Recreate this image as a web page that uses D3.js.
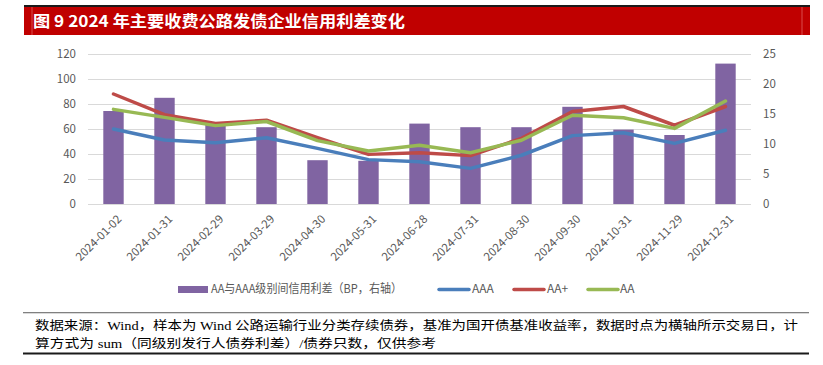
<!DOCTYPE html>
<html>
<head>
<meta charset="utf-8">
<script src="https://cdn.jsdelivr.net/npm/d3@7/dist/d3.min.js"></script>
<style>
  body { margin: 0; background: #fff; }
  text { font-family: "Noto Sans CJK SC", "Noto Sans", sans-serif; }
</style>
</head>
<body>
<div id="chart"></div>
<script>
// data
var dates = ["2024-01-02", "2024-01-31", "2024-02-29", "2024-03-29", "2024-04-30", "2024-05-31",
             "2024-06-28", "2024-07-31", "2024-08-30", "2024-09-30", "2024-10-31", "2024-11-29", "2024-12-31"];
var spreadGap = [15.5, 17.7, 13.4, 12.8, 7.3, 7.2, 13.4, 12.8, 12.8, 16.2, 12.4, 11.5, 23.4];
var aaa = [60, 51.2, 49, 53, 44.5, 35.5, 33.8, 28.5, 39, 54.7, 57, 48.5, 59];
var aaPlus = [88, 71.5, 64.5, 67, 53, 39.7, 41, 38.7, 52.5, 74, 78, 63, 78];
var aa = [75.7, 69.3, 62.7, 66, 50.7, 42.4, 47, 41, 51, 71, 69, 60.5, 82.4];
var leftTicks = [0, 20, 40, 60, 80, 100, 120];
var rightTicks = [0, 5, 10, 15, 20, 25];

var width = 823, height = 365;
var plot = {left: 88, right: 751, top: 54, bottom: 204};

var svg = d3.select("#chart").append("svg")
    .attr("width", width)
    .attr("height", height);

// title bar
svg.append("rect").attr("x", 24).attr("y", 5).attr("width", 786).attr("height", 2).attr("fill", "#1a1a1a");
svg.append("rect").attr("x", 24).attr("y", 7).attr("width", 786).attr("height", 28).attr("fill", "#C00000");
svg.append("line").attr("x1", 32).attr("x2", 32).attr("y1", 7).attr("y2", 35).attr("stroke", "#e06060").attr("stroke-width", 0.8);
svg.append("line").attr("x1", 802).attr("x2", 802).attr("y1", 7).attr("y2", 35).attr("stroke", "#e06060").attr("stroke-width", 0.8);
svg.append("text")
    .attr("x", 33).attr("y", 27)
    .attr("fill", "#fff")
    .attr("font-size", 16)
    .attr("font-weight", "bold")
    .attr("textLength", 372)
    .attr("lengthAdjust", "spacingAndGlyphs")
    .text("图 9  2024 年主要收费公路发债企业信用利差变化");

// scales
var x = d3.scaleBand()
    .domain(dates)
    .range([plot.left, plot.right])
    .paddingInner(0.6)
    .paddingOuter(0.3);

var xc = d => x(d) + x.bandwidth() / 2;

var yLeft = d3.scaleLinear().domain([0, 120]).range([plot.bottom, plot.top]);
var yRight = d3.scaleLinear().domain([0, 25]).range([plot.bottom, plot.top]);

// gridlines
svg.append("g")
    .attr("transform", "translate(" + plot.left + ",0)")
    .call(d3.axisLeft(yLeft).tickValues(leftTicks).tickSize(-(plot.right - plot.left)).tickFormat(""))
    .call(g => g.select(".domain").remove())
    .call(g => g.selectAll("line").attr("stroke", "#d9d9d9").attr("stroke-width", 1.2));

// left axis labels
svg.append("g")
    .attr("transform", "translate(" + (plot.left - 6) + ",0)")
    .call(d3.axisLeft(yLeft).tickValues(leftTicks).tickSize(0).tickPadding(6))
    .call(g => g.select(".domain").remove())
    .call(g => g.selectAll("text").attr("fill", "#595959").attr("font-size", 11.5));

// right axis labels
svg.append("g")
    .attr("transform", "translate(" + (plot.right + 6) + ",0)")
    .call(d3.axisRight(yRight).tickValues(rightTicks).tickSize(0).tickPadding(6))
    .call(g => g.select(".domain").remove())
    .call(g => g.selectAll("text").attr("fill", "#595959").attr("font-size", 11.5));

// bars on right axis
svg.append("g").selectAll("rect")
    .data(dates)
    .join("rect")
    .attr("x", d => x(d))
    .attr("width", x.bandwidth())
    .attr("y", (d, i) => yRight(spreadGap[i]))
    .attr("height", (d, i) => yRight(0) - yRight(spreadGap[i]))
    .attr("fill", "#8064A2");

// x axis labels, rotated
svg.append("g")
    .attr("transform", "translate(0," + plot.bottom + ")")
    .call(d3.axisBottom(x).tickSize(0).tickFormat(d => d))
    .call(g => g.select(".domain").remove())
    .call(g => g.selectAll("text")
        .attr("fill", "#595959")
        .attr("font-size", 11.5)
        .attr("text-anchor", "end")
        .attr("transform", "translate(6,13) rotate(-45)")
        .attr("dy", "0.35em")
        .attr("y", 0));

// lines on left axis
var series = [
  {name: "AAA", values: aaa, color: "#4A7EBB"},
  {name: "AA+", values: aaPlus, color: "#BE4B48"},
  {name: "AA", values: aa, color: "#98B954"}
];

var line = d3.line()
    .x(d => xc(d.date))
    .y(d => yLeft(d.value));

series.forEach(function(s) {
  svg.append("path")
      .datum(dates.map((d, i) => ({date: d, value: s.values[i]})))
      .attr("fill", "none")
      .attr("stroke", s.color)
      .attr("stroke-width", 3.5)
      .attr("stroke-linejoin", "round")
      .attr("stroke-linecap", "round")
      .attr("d", line);
});

// legend
var legend = svg.append("g").attr("font-size", 12).attr("fill", "#595959");
legend.append("rect").attr("x", 178).attr("y", 286).attr("width", 30).attr("height", 7).attr("fill", "#8064A2");
legend.append("text").attr("x", 211).attr("y", 289).attr("dy", "0.35em").attr("fill", "#595959")
    .attr("textLength", 191).attr("lengthAdjust", "spacingAndGlyphs")
    .text("AA与AAA级别间信用利差（BP，右轴）");
var legendLines = [
  {x: 438, tx: 472, s: series[0]},
  {x: 513, tx: 547, s: series[1]},
  {x: 587, tx: 620, s: series[2]}
];
legendLines.forEach(function(l) {
  legend.append("line").attr("x1", l.x + 1).attr("x2", l.x + 31).attr("y1", 289.5).attr("y2", 289.5)
      .attr("stroke", l.s.color).attr("stroke-width", 3.5).attr("stroke-linecap", "round");
  legend.append("text").attr("x", l.tx).attr("y", 289).attr("dy", "0.35em").attr("fill", "#595959").text(l.s.name);
});

// footer
svg.append("rect").attr("x", 23).attr("y", 312).attr("width", 786).attr("height", 1.3).attr("fill", "#808080");
svg.append("rect").attr("x", 23).attr("y", 352.5).attr("width", 786).attr("height", 2).attr("fill", "#1a1a1a");
svg.append("text")
    .attr("x", 35).attr("y", 330)
    .attr("font-size", 12.5).attr("fill", "#000")
    .style("font-family", "'Liberation Serif', 'Noto Sans CJK SC', serif")
    .attr("textLength", 763).attr("lengthAdjust", "spacingAndGlyphs")
    .text("数据来源：Wind，样本为 Wind 公路运输行业分类存续债券，基准为国开债基准收益率，数据时点为横轴所示交易日，计");
svg.append("text")
    .attr("x", 35).attr("y", 347.5)
    .attr("font-size", 12.5).attr("fill", "#000")
    .style("font-family", "'Liberation Serif', 'Noto Sans CJK SC', serif")
    .attr("textLength", 401).attr("lengthAdjust", "spacingAndGlyphs")
    .text("算方式为 sum（同级别发行人债券利差）/债券只数，仅供参考");
</script>
</body>
</html>
